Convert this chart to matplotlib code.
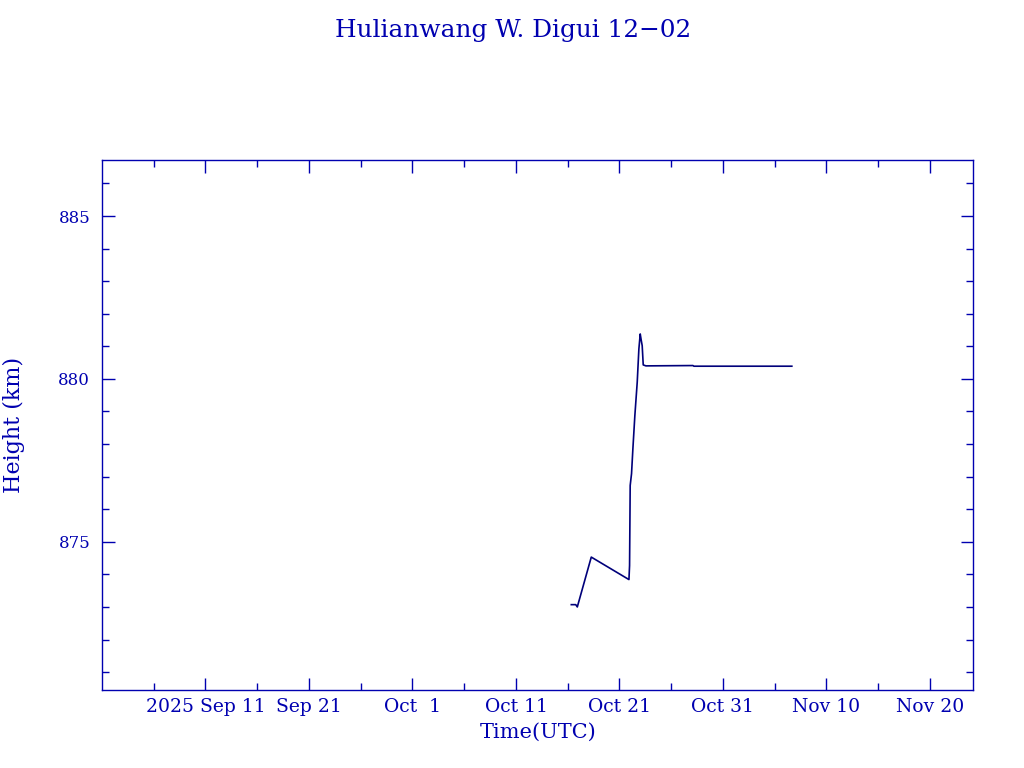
import matplotlib
matplotlib.use("Agg")
import matplotlib.pyplot as plt
import matplotlib.dates as mdates
import numpy as np
import pandas as pd

title = "Hulianwang W. Digui 12\u221202"
xlabel = "Time(UTC)"
ylabel = "Height (km)"

times = pd.to_datetime([
    "2025-10-16 08:24", "2025-10-16 18:43", "2025-10-16 22:19",
    "2025-10-18 06:43", "2025-10-21 22:05", "2025-10-21 23:31",
    "2025-10-22 00:58", "2025-10-22 04:05", "2025-10-22 07:12",
    "2025-10-22 11:46", "2025-10-22 17:17", "2025-10-22 21:07",
    "2025-10-23 00:14", "2025-10-23 02:24", "2025-10-23 04:48",
    "2025-10-23 07:12", "2025-10-23 13:26", "2025-10-28 02:24",
    "2025-10-28 04:48", "2025-11-06 15:50",
])
heights = [
    873.07, 873.07, 873.00,
    874.53, 873.84, 874.27,
    876.73, 877.09, 877.85,
    878.87, 879.90, 880.92,
    881.38, 881.20, 881.02,
    880.43, 880.40, 880.41,
    880.39, 880.39,
]

tick_dates = pd.to_datetime(["2025-09-11", "2025-09-21", "2025-10-01", "2025-10-11",
                             "2025-10-21", "2025-10-31", "2025-11-10", "2025-11-20"])
tick_labels = ["2025 Sep 11", "Sep 21", "Oct  1", "Oct 11", "Oct 21", "Oct 31", "Nov 10", "Nov 20"]
y_ticks = [875, 880, 885]

xmin, xmax = pd.Timestamp("2025-09-01"), pd.Timestamp("2025-11-24 04:00")
ymin, ymax = 870.45, 886.72

blue = "#0000b0"
line_col = "#00007a"
font = ["DejaVu Serif"]
plt.rcParams["font.family"] = font

fig = plt.figure(figsize=(10.24, 7.68), dpi=100)
ax = fig.add_axes([102/1024, 1-690/768, (973-102)/1024, (690-160)/768])
ax.plot(times, heights, color=line_col, lw=1.2)
ax.set_xlim(xmin, xmax)
ax.set_ylim(ymin, ymax)

ax.set_xticks(mdates.date2num(tick_dates))
ax.set_xticklabels(tick_labels)
minor_x = pd.date_range("2025-09-06", "2025-11-24", freq="10D")
ax.set_xticks(mdates.date2num(minor_x), minor=True)
ax.set_yticks(y_ticks)
ax.set_yticks(np.arange(871, 887, 1), minor=True)

for sp in ax.spines.values():
    sp.set_color(blue)
    sp.set_linewidth(1.0)
ax.tick_params(which="both", direction="in", top=True, right=True, colors=blue,
               labelcolor=blue, width=1.0)
ax.tick_params(which="major", length=9)
ax.tick_params(which="minor", length=5)
ax.tick_params(axis="x", pad=6, labelsize=13.5)
ax.tick_params(axis="y", pad=8.5, labelsize=12)

fig.text(513/1024, 1-30/768, title, color=blue, fontsize=17.8, ha="center", va="center")
fig.text(538/1024, 1-732/768, xlabel, color=blue, fontsize=15, ha="center", va="center")
fig.text(14/1024, 1-425/768, ylabel, color=blue, fontsize=16, ha="center", va="center", rotation=90)

fig.savefig("out.png", dpi=100)
